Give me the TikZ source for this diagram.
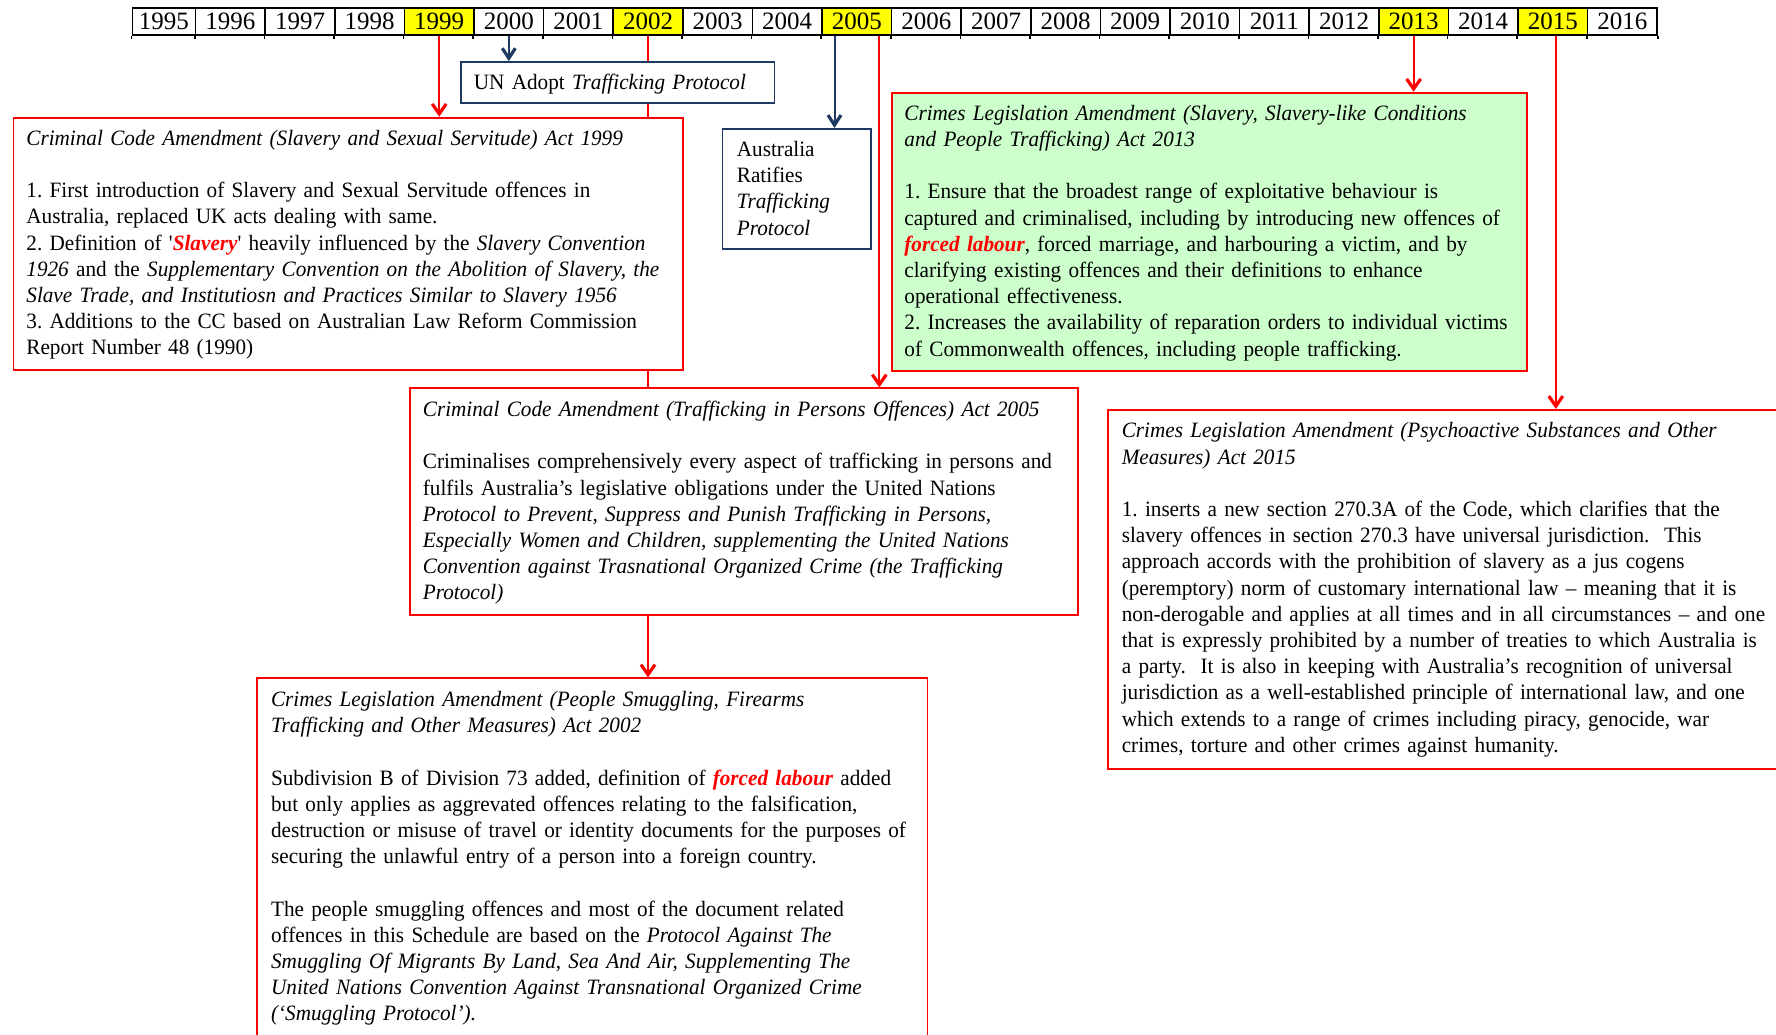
\documentclass[tikz,border=0pt]{standalone}
\usepackage{fontspec}
\newfontfamily\tnr{Liberation Serif}[FakeStretch=0.968]
\newfontfamily\tnryr{Liberation Serif}
\usetikzlibrary{arrows.meta,calc}
\definecolor{navy}{RGB}{31,56,100}
\definecolor{lgreen}{RGB}{204,255,204}
\definecolor{yel}{RGB}{255,255,0}
\newcommand{\redem}[1]{\textcolor{red}{\bfseries\itshape #1}}
\pgfdeclarelayer{bg}
\pgfsetlayers{bg,main}
\tikzset{
  cell/.style={draw=black, line width=0.8pt, inner sep=0pt, minimum height=13.5pt, anchor=north west, font=\tnryr\fontsize{12.5}{13}\selectfont},
  redbox/.style={draw=red, line width=0.9pt, fill=white, anchor=north west, inner sep=0pt},
  navybox/.style={draw=navy, line width=0.9pt, fill=white, anchor=north west, inner sep=0pt},
  greenbox/.style={redbox, fill=lgreen},
  txt/.style={anchor=base west, inner sep=0pt, text width=390pt, align=left, font=\tnr\frenchspacing\fontsize{10.95}{13.1}\selectfont},
  redarr/.style={draw=red, line width=1pt, -{Straight Barb[length=5pt,width=7pt,line width=1.6pt]}},
  navyarr/.style={draw=navy, line width=1pt, -{Straight Barb[length=5pt,width=6.5pt,line width=1.6pt]}},
}
\begin{document}
\begin{tikzpicture}[x=0.5pt,y=-0.5pt]
\useasboundingbox (0,0) rectangle (1776,1034);
\clip (0,0) rectangle (1776,1034);

% timeline
\node[cell, minimum width=31.65pt] (y1995) at (131.5,7) {1995};
\foreach \yr/\f [count=\i from 0] in {1996/white,1997/white,1998/white,1999/yel,2000/white,2001/white,2002/yel,2003/white,2004/white,2005/yel,2006/white,2007/white,2008/white,2009/white,2010/white,2011/white,2012/white,2013/yel,2014/white,2015/yel,2016/white}
  \node[cell, fill=\f, minimum width=34.8pt] (y\yr) at ({194.8+69.6*\i},7) {\yr};
\foreach \yr in {1996,...,2016}
  \draw[line width=0.8pt] (y\yr.south west) -- ++(0,3);
\draw[line width=0.8pt] (y1995.south west) -- ++(0,3);
\draw[line width=0.8pt] (y2016.south east) -- ++(0,3);

% boxes
\node[redbox, minimum width=334.7pt, minimum height=126.3pt] (b1999) at (12.5,116.7) {};
\node[navybox, minimum width=156.85pt, minimum height=20.35pt] (un) at (459.9,61.2) {};
\node[navybox, minimum width=74.2pt, minimum height=60pt] (aus) at (721.5,128) {};
\node[redbox, minimum width=334.15pt, minimum height=113.25pt] (b2005) at (408.9,387.4) {};
\node[greenbox, minimum width=317.2pt, minimum height=139.35pt] (b2013) at (891.4,91.7) {};
\node[redbox, minimum width=346.65pt, minimum height=179.55pt] (b2015) at (1106.7,408.9) {};
\node[redbox, minimum width=335.25pt, minimum height=191.3pt] (b2002) at (256,677.4) {};

% texts
\node[txt] (tun) at ($(un.north west)+(13.6,28.5)$) {UN Adopt \textit{Trafficking Protocol}};
\node[txt] (taus) at ($(aus.north west)+(15,28.5)$) {Australia\\Ratifies\\\textit{Trafficking}\\\textit{Protocol}};
\node[txt] (t1999) at ($(b1999.north west)+(13.5,28.5)$) {\textit{Criminal Code Amendment (Slavery and Sexual Servitude) Act 1999}\\[13.1pt]
1. First introduction of Slavery and Sexual Servitude offences in\\
Australia, replaced UK acts dealing with same.\\
2. Definition of '\redem{Slavery}' heavily influenced by the \textit{Slavery Convention}\\
\textit{1926} and the \textit{Supplementary Convention on the Abolition of Slavery, the}\\
\textit{Slave Trade, and Institutiosn and Practices Similar to Slavery 1956}\\
3. Additions to the CC based on Australian Law Reform Commission\\
Report Number 48 (1990)};
\node[txt] (t2013) at ($(b2013.north west)+(12.6,28.5)$) {\textit{Crimes Legislation Amendment (Slavery, Slavery-like Conditions}\\
\textit{and People Trafficking) Act 2013}\\[13.1pt]
1. Ensure that the broadest range of exploitative behaviour is\\
captured and criminalised, including by introducing new offences of\\
\redem{forced labour}, forced marriage, and harbouring a victim, and by\\
clarifying existing offences and their definitions to enhance\\
operational effectiveness.\\
2. Increases the availability of reparation orders to individual victims\\
of Commonwealth offences, including people trafficking.};
\node[txt] (t2005) at ($(b2005.north west)+(13.6,29)$) {\textit{Criminal Code Amendment (Trafficking in Persons Offences) Act 2005}\\[13.1pt]
Criminalises comprehensively every aspect of trafficking in persons and\\
fulfils Australia’s legislative obligations under the United Nations\\
\textit{Protocol to Prevent, Suppress and Punish Trafficking in Persons,}\\
\textit{Especially Women and Children, supplementing the United Nations}\\
\textit{Convention against Trasnational Organized Crime (the Trafficking}\\
\textit{Protocol)}};
\node[txt] (t2015) at ($(b2015.north west)+(14.7,29)$) {\textit{Crimes Legislation Amendment (Psychoactive Substances and Other}\\
\textit{Measures) Act 2015}\\[13.1pt]
1. inserts a new section 270.3A of the Code, which clarifies that the\\
slavery offences in section 270.3 have universal jurisdiction.\ \ This\\
approach accords with the prohibition of slavery as a jus cogens\\
(peremptory) norm of customary international law – meaning that it is\\
non-derogable and applies at all times and in all circumstances – and one\\
that is expressly prohibited by a number of treaties to which Australia is\\
a party.\ \ It is also in keeping with Australia’s recognition of universal\\
jurisdiction as a well-established principle of international law, and one\\
which extends to a range of crimes including piracy, genocide, war\\
crimes, torture and other crimes against humanity.};
\node[txt] (t2002) at ($(b2002.north west)+(14.7,29)$) {\textit{Crimes Legislation Amendment (People Smuggling, Firearms}\\
\textit{Trafficking and Other Measures) Act 2002}\\[13.1pt]
Subdivision B of Division 73 added, definition of \redem{forced labour} added\\
but only applies as aggrevated offences relating to the falsification,\\
destruction or misuse of travel or identity documents for the purposes of\\
securing the unlawful entry of a person into a foreign country.\\[13.1pt]
The people smuggling offences and most of the document related\\
offences in this Schedule are based on the \textit{Protocol Against The}\\
\textit{Smuggling Of Migrants By Land, Sea And Air, Supplementing The}\\
\textit{United Nations Convention Against Transnational Organized Crime}\\
\textit{(‘Smuggling Protocol’).}};

% connectors
\begin{pgfonlayer}{bg}
\draw[redarr] (y2002.south) -- (y2002.south |- b2002.north);
\end{pgfonlayer}
\draw[redarr] (y1999.south) -- (y1999.south |- b1999.north);
\draw[navyarr] (y2000.south) -- (y2000.south |- un.north);
\coordinate (c05a) at ($(y2005.south)+(-22.3,0)$);
\coordinate (c05b) at ($(y2005.south)+(22.5,0)$);
\draw[navyarr] (c05a) -- (c05a |- aus.north);
\draw[redarr] (c05b) -- (c05b |- b2005.north);
\draw[redarr] (y2013.south) -- (y2013.south |- b2013.north);
\coordinate (c15) at ($(y2015.south)+(3,0)$);
\draw[redarr] (c15) -- (c15 |- b2015.north);
\end{tikzpicture}
\end{document}
